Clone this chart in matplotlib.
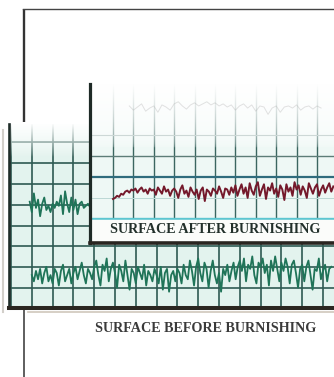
import numpy as np
import matplotlib
matplotlib.use("Agg")
import matplotlib.pyplot as plt

W, H = 334, 377

# profile readings, in grid divisions (deviation from the trace baseline)
# surface before burnishing, lower trace, one sample every 0.1 division from x=1.0
before_dev = [
    0.1, -0.2, 0.3, -0.1, 0.4, -0.3, 0.2, 0.5, -0.2, 0.1,
    -0.3, 0.4, 0.2, -0.4, 0.3, 0.6, -0.2, 0.1, 0.4, -0.3,
    0.2, 0.5, -0.1, 0.3, 0.7, 0.1, -0.3, 0.4, 0.2, -0.1,
    0.5, 0.8, 0.1, -0.4, 0.6, 0.3, 0.9, -0.2, 0.4, 0.7,
    0.2, -0.5, 0.6, 0.3, -0.2, 0.8, 0.1, -0.6, 0.4, 0.2,
    -0.3, 0.5, 0.2, -0.1, 0.6, -0.4, 0.3, 0.1, -0.2, 0.4,
    0.1, -0.3, 0.5, -0.6, 0.2, 0.4, -0.7, 0.1, 0.3, -0.2,
    0.4, 0.2, -0.3, 0.6, 0.1, -0.1, 0.8, 0.3, -0.4, 0.5,
    0.9, 0.2, -0.2, 0.7, 0.4, -0.5, 0.3, 0.8, 0.1, -0.3,
    0.2, -0.7, 0.4, 0.1, 0.6, -0.2, 0.3, 0.7, -0.1, 0.5,
    0.8, 0.3, 0.9, -0.2, 0.6, 0.4, 1.0, 0.1, -0.3, 0.7,
    0.5, 0.9, 0.2, 0.6, -0.4, 0.8, 0.3, 1.0, 0.4, -0.2,
    0.7, 0.3, 0.9, 0.5, -0.3, 0.6, 0.8, 0.2, -0.5, 0.4,
    0.6, -0.2, 0.5, 0.8, 0.1, -0.6, 0.4, 0.3, 0.9, -0.1,
    0.3, 0.6, -0.2, 0.4, 0.5,
]
before_base = 0.52

# short piece of the same profile seen left of the front sheet, from x=0.9
before_top_dev = [
    0.2, -0.3, 0.6, -0.1, 0.3, -0.5, 0.1, 0.4, -0.2, 0.0,
    -0.3, 0.1, -0.1, 0.2, 0.0, 0.5, -0.4, 0.7, 0.1, -0.3,
    0.4, -0.2, 0.3, -0.4, 0.1, 0.2, -0.1, 0.0, 0.1, -0.05,
]
before_top_base = 3.95

# surface after burnishing, from x=0.0
after_dev = [
    -0.35, -0.3, -0.2, -0.25, -0.1, -0.15, 0.0, 0.05, -0.05, 0.1,
    0.05, 0.15, -0.05, 0.1, 0.2, 0.0, 0.1, -0.1, 0.15, 0.05,
    0.1, -0.15, 0.2, 0.05, -0.1, 0.25, 0.0, 0.1, -0.2, 0.05,
    0.15, 0.0, -0.3, 0.1, 0.3, -0.1, 0.05, -0.25, 0.2, 0.0,
    -0.15, 0.1, -0.35, 0.05, 0.2, -0.45, 0.1, 0.0, -0.2, 0.15,
    0.05, -0.1, 0.25, 0.0, -0.3, 0.15, 0.1, -0.15, 0.2, -0.05,
    0.3, -0.2, 0.1, 0.35, -0.1, 0.2, -0.3, 0.4, 0.05, -0.15,
    0.25, 0.45, -0.2, 0.1, 0.35, -0.35, 0.2, 0.05, 0.4, -0.1,
    0.15, -0.25, 0.3, 0.1, -0.4, 0.35, 0.0, 0.2, -0.2, 0.45,
    0.1, 0.3, -0.15, 0.25, 0.05, -0.3, 0.4, 0.15, -0.1, 0.2,
    0.35, -0.2, 0.1, 0.3, -0.05, 0.2, 0.4, 0.0, 0.25,
]
after_base = 1.31

# faint pencil trace at the top of the front sheet, from x=0.8, step 0.2
ghost_dev = [
    0.1, -0.1, 0.05, 0.2, -0.15, 0.0, 0.1, -0.2, 0.15, 0.05,
    -0.1, 0.2, 0.3, 0.1, -0.05, 0.15, 0.25, 0.1, 0.2, 0.3,
    0.15, 0.25, 0.1, 0.2, 0.05, 0.15, -0.1, 0.1, 0.2, 0.0,
    0.15, -0.15, 0.1, 0.05, -0.3, 0.0, 0.1, -0.2, 0.05, 0.1,
    0.0, 0.15, -0.1, 0.05, 0.1, -0.05, 0.1, 0.0,
]
ghost_base = 5.3

label_after = "SURFACE AFTER BURNISHING"
label_before = "SURFACE BEFORE BURNISHING"


def box(x0, y0, x1, y1):
    return [x0 / W, 1 - y1 / H, (x1 - x0) / W, (y1 - y0) / H]


def fade(ax, y0, power):
    # white veil that fades the top of a sheet
    t = np.linspace(0, 1, 100)[:, None]
    img = np.ones((100, 2, 4))
    img[:, :, 3] = np.clip(t, 0, 1) ** power
    ax.imshow(img, origin="lower", extent=(0, 1, y0, 1), transform=ax.transAxes,
              aspect="auto", zorder=2, interpolation="bilinear")


fig = plt.figure(figsize=(W / 100, H / 100), dpi=100)

# frame lines behind the sheets
ax0 = fig.add_axes([0, 0, 1, 1])
ax0.set_xlim(0, W)
ax0.set_ylim(H, 0)
ax0.axis("off")
ax0.plot([24, 24], [9, 122], color="#333333", lw=1.7, solid_capstyle="butt")
ax0.plot([23, 334], [9, 9], color="#444444", lw=1.0)
ax0.plot([24, 24], [310, 377], color="#333333", lw=1.1)
ax0.plot([3, 3], [130, 312], color="#d2cfca", lw=1.5)
ax0.plot([28, 334], [312, 312], color="#cfc7bb", lw=1.2)
ax0.text(206, 328, label_before, ha="center", va="center", fontsize=10.2,
         fontweight="bold", family="Liberation Serif", color="#3a3a3a")

# back sheet: before burnishing
axb = fig.add_axes(box(9, 124, 334, 308))
axb.set_facecolor("#e3f3ee")
axb.set_xlim((9 - 11) / 20.8, (334 - 11) / 20.8)
axb.set_ylim((288 - 308) / 20.8, (288 - 124) / 20.8)
for k in range(16):
    axb.axvline(k, color="#2e5a52", lw=1.2, zorder=1)
for k in range(8):
    axb.axhline(k, color="#2e5a52", lw=1.2, zorder=1)
fade(axb, 0.82, 0.8)
xb = 1.0 + 0.1 * np.arange(len(before_dev))
axb.plot(xb, before_base + np.array(before_dev), color="#1f7458", lw=1.3, zorder=3)
xbt = 0.9 + 0.1 * np.arange(len(before_top_dev))
axb.plot(xbt, before_top_base + np.array(before_top_dev), color="#1f7458", lw=1.3, zorder=3)
axb.set_xticks([])
axb.set_yticks([])
for s in ["top", "right"]:
    axb.spines[s].set_visible(False)
axb.spines["left"].set_linewidth(1.9)
axb.spines["left"].set_color("#1f2d29")
axb.spines["bottom"].set_linewidth(2.9)
axb.spines["bottom"].set_color("#2b2620")
for s in axb.spines.values():
    s.set_zorder(4)

# front sheet: after burnishing
axf = fig.add_axes(box(90, 84, 334, 243))
axf.set_facecolor("#eef8f5")
axf.set_xlim((90 - 113) / 20.4, (334 - 113) / 20.4)
axf.set_ylim(-24 / 21, 135 / 21 + 0.02)
for k in range(11):
    axf.axvline(k, color="#3b6660", lw=1.0, zorder=1)
h_styles = [("#5cc6d0", 1.7), ("#bcd7d4", 0.7), ("#2f6c7d", 1.6), ("#5d7d78", 1.0), ("#9ab0ab", 0.8)]
for k, (c, w) in enumerate(h_styles):
    axf.axhline(k, color=c, lw=w, zorder=1.2)
axf.axhspan(-2, -0.04, color="#fbfcfa", zorder=1.5)
fade(axf, 0.6, 0.4)
xa = 0.1 * np.arange(len(after_dev))
axf.plot(xa, after_base + np.array(after_dev), color="#74192b", lw=1.4, zorder=3)
xg = 0.8 + 0.2 * np.arange(len(ghost_dev))
axf.plot(xg, ghost_base + np.array(ghost_dev), color="#a0a0a0", lw=0.7, alpha=0.3, zorder=3)
axf.text(5.0, -0.5, label_after, ha="center", va="center", fontsize=10.2,
         fontweight="bold", family="Liberation Serif", color="#22302b", zorder=4)
axf.set_xticks([])
axf.set_yticks([])
for s in ["top", "right"]:
    axf.spines[s].set_visible(False)
axf.spines["left"].set_linewidth(2.3)
axf.spines["left"].set_color("#1e2a26")
axf.spines["bottom"].set_linewidth(2.6)
axf.spines["bottom"].set_color("#2a2520")
for s in axf.spines.values():
    s.set_zorder(4)

fig.savefig("out.png", dpi=100)
